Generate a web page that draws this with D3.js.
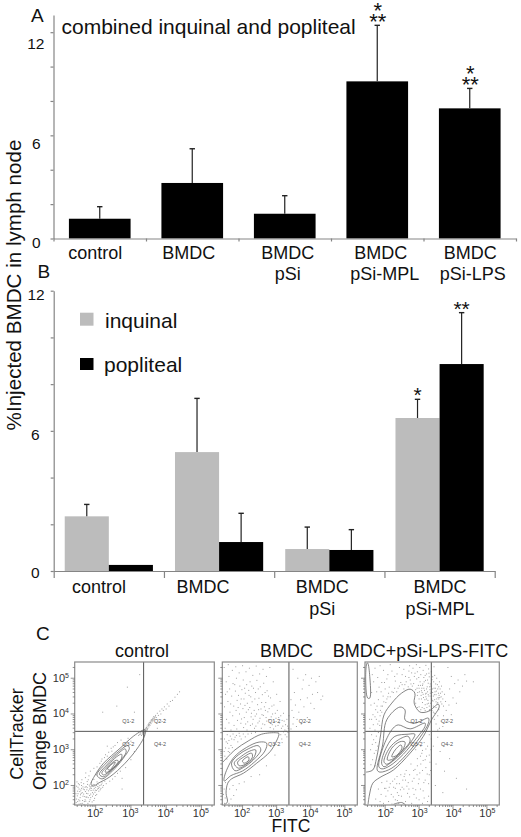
<!DOCTYPE html>
<html>
<head>
<meta charset="utf-8">
<script src="https://cdn.jsdelivr.net/npm/d3@7"></script>
<style>
html, body { margin: 0; padding: 0; background: #fff; }
svg { display: block; }
text { font-family: "Liberation Sans", Arial, sans-serif; fill: #111; }
</style>
</head>
<body>
<div id="chart"></div>
<script>
// panel A
var catsA = [["control"], ["BMDC"], ["BMDC", "pSi"], ["BMDC", "pSi-MPL"], ["BMDC", "pSi-LPS"]];
var valsA = [1.15, 3.23, 1.44, 9.14, 7.57];
var errTopA = [1.85, 5.22, 2.49, 12.4, 8.73];
var starsA = ["", "", "", "two", "two"];

// panel B
var catsB = [["control"], ["BMDC"], ["BMDC", "pSi"], ["BMDC", "pSi-MPL"]];
var seriesB = ["inquinal", "popliteal"];
var inquinal = [2.34, 5.09, 0.94, 6.55];
var popliteal = [0.26, 1.24, 0.90, 8.86];
var errTopInq = [2.85, 7.39, 1.88, 7.35];
var errTopPop = [0.27, 2.47, 1.77, 11.06];
var starsInq = ["", "", "", "*"];
var starsPop = ["", "", "", "**"];

var yTicks = [0, 2, 4, 6, 8, 10, 12];

// panel C, all in log10 units
var flowTitles = ["control", "BMDC", "BMDC+pSi-LPS-FITC"];
var gateX = 3.375, gateY = 3.5;
var decades = [2, 3, 4, 5];
var quadNames = [["Q1-2", 2.94, 3.79], ["Q2-2", 3.84, 3.79], ["Q3-2", 2.94, 3.16], ["Q4-2", 3.84, 3.16]];

var contoursControl = [
	[[1.88,2.02],[2.0,2.28],[2.24,2.61],[2.71,3.03],[3.08,3.36],[3.31,3.51],[3.41,3.55],[3.41,3.40],[3.23,3.07],[2.85,2.61],[2.42,2.23],[2.09,2.05],[1.95,1.97]],
	[[2.05,2.28],[2.28,2.58],[2.61,2.89],[2.92,3.10],[2.97,3.03],[2.80,2.75],[2.47,2.37],[2.19,2.17]],
	[[2.12,2.30],[2.33,2.56],[2.61,2.84],[2.85,3.01],[2.88,2.92],[2.71,2.67],[2.47,2.42],[2.24,2.23]],
	[[2.19,2.33],[2.38,2.56],[2.61,2.79],[2.75,2.86],[2.75,2.75],[2.57,2.51],[2.38,2.36],[2.24,2.28]],
	[[2.28,2.37],[2.41,2.54],[2.59,2.69],[2.66,2.67],[2.52,2.49],[2.35,2.36]],
	[[2.35,2.45],[2.47,2.58],[2.57,2.64],[2.52,2.54],[2.41,2.42]]
];
var openBMDC = [[1.44,2.64],[1.79,2.98],[2.18,3.23],[2.57,3.42],[3.01,3.46],[3.08,3.44],[3.01,3.23],[2.82,2.93],[2.43,2.61],[2.04,2.33],[1.69,2.17],[1.58,2.05],[1.53,1.77],[1.57,1.53],[1.48,1.44]];
var contoursBMDC = [
	[[1.48,2.23],[1.74,2.75],[2.13,3.05],[2.50,3.20],[2.72,3.17],[2.67,2.95],[2.36,2.64],[2.01,2.39],[1.67,2.26],[1.48,2.11]],
	[[1.69,2.61],[1.89,2.84],[2.18,3.01],[2.47,3.10],[2.55,2.98],[2.33,2.70],[2.04,2.49],[1.79,2.40]],
	[[1.77,2.61],[1.99,2.81],[2.23,2.95],[2.40,2.98],[2.36,2.79],[2.13,2.58],[1.89,2.47]],
	[[1.87,2.64],[2.06,2.79],[2.28,2.89],[2.30,2.77],[2.10,2.58],[1.91,2.54]],
	[[2.01,2.67],[2.18,2.79],[2.20,2.70],[2.06,2.61]]
];
var openLPS = [[1.45,2.36],[1.65,2.42],[1.76,2.75],[1.88,3.40],[1.98,3.96],[2.21,4.29],[2.50,4.57],[2.75,4.68],[2.89,4.57],[2.87,4.29],[3.04,4.04],[3.29,4.06],[3.58,4.26],[3.61,4.19],[3.38,3.82],[3.14,3.36],[2.75,2.89],[2.26,2.42],[1.86,2.21],[1.65,2.05],[1.55,1.72],[1.51,1.46]];
var openLPS2 = [[2.26,1.46],[2.50,1.51],[2.62,1.44]];
var contoursLPS = [
	[[1.48,5.41],[1.44,5.04],[1.50,4.43],[1.56,4.43],[1.56,5.04],[1.50,5.41]],
	[[1.78,2.42],[1.94,3.12],[2.06,3.82],[2.45,4.18],[2.60,4.10],[2.60,3.82],[2.89,3.73],[3.29,3.87],[3.29,3.73],[3.04,3.33],[2.65,2.86],[2.21,2.47],[1.86,2.36]],
	[[1.83,2.51],[1.98,3.12],[2.25,3.59],[2.40,3.68],[2.75,3.57],[3.19,3.73],[3.19,3.64],[2.94,3.31],[2.55,2.86],[2.16,2.54],[1.92,2.45]],
	[[1.91,2.61],[2.06,3.07],[2.30,3.36],[2.69,3.42],[2.89,3.42],[2.75,3.17],[2.45,2.84],[2.16,2.61],[1.98,2.51]],
	[[1.98,2.65],[2.14,3.03],[2.40,3.26],[2.69,3.36],[2.75,3.23],[2.55,2.98],[2.25,2.70],[2.06,2.58]],
	[[2.08,2.70],[2.21,3.03],[2.45,3.21],[2.60,3.20],[2.53,2.98],[2.25,2.73]],
	[[2.21,2.79],[2.31,2.98],[2.48,3.12],[2.51,3.03],[2.34,2.82]]
];

var dotsControl = [
[1.45,1.52],[1.48,1.71],[1.5,1.95],[1.47,2.1],[1.52,1.6],[1.55,1.83],[1.54,2.02],[1.58,1.49],[1.57,1.74],[1.6,1.92],[1.61,2.16],[1.63,1.58],[1.62,1.8],[1.66,2.05],[1.67,1.47],[1.69,1.69],[1.68,1.88],[1.71,2.22],[1.72,1.56],[1.74,1.78],[1.73,1.97],[1.76,2.11],[1.78,1.5],[1.79,1.66],[1.8,1.85],[1.82,2.01],[1.81,2.27],[1.84,1.6],[1.86,1.76],[1.85,1.93],[1.88,2.08],[1.9,1.54],[1.91,1.7],[1.93,1.87],[1.92,1.99],[1.95,2.17],[1.97,1.64],[1.98,1.81],[2.0,1.95],[2.01,2.3],[2.03,1.75],[2.05,1.9],[2.07,2.04],[2.09,1.84],[2.12,2.0],[2.15,1.92],[2.18,2.07],[2.22,2.0],[2.26,2.12],
[1.46,1.62],[1.49,1.84],[1.51,2.05],[1.53,1.48],[1.56,1.66],[1.59,1.78],[1.6,2.0],[1.64,1.7],[1.65,1.9],[1.7,1.6],[1.7,1.95],[1.75,1.68],[1.75,1.88],[1.77,2.03],[1.83,1.72],[1.83,1.9],[1.87,1.86],[1.89,1.98],[1.94,1.76],[1.96,1.92],[1.99,1.87],[2.02,2.0],[2.06,1.97],[2.1,1.95],[1.72,2.35],[1.85,2.4],[1.95,2.48],
[1.44,1.77],[1.46,1.98],[1.49,1.55],[1.5,1.77],[1.53,1.9],[1.55,1.57],[1.58,1.87],[1.59,2.08],[1.62,1.5],[1.64,1.96],[1.66,1.76],[1.68,1.55],[1.71,1.83],[1.73,1.67],[1.76,1.94],[1.78,1.77],[1.79,2.16],[1.82,1.55],[1.84,1.97],[1.86,1.66],[1.88,1.92],[1.91,1.8],[1.93,2.03],[1.95,1.58],[1.97,2.02],[2.0,1.72],[2.02,1.86],[2.04,2.1],[2.08,1.92],[2.13,1.88],[2.16,2.02],[2.2,1.95],
[2.04,2.52],[2.12,2.62],[2.18,2.74],[2.28,2.86],[2.37,2.93],[2.44,3.04],[2.55,3.12],[2.62,3.2],[2.72,3.27],[2.4,2.12],[2.55,2.25],[2.7,2.4],[2.85,2.5],[3.0,2.72],[3.1,2.95],[2.33,3.1],[2.92,3.32],[3.0,3.24],[2.75,2.2],[2.08,2.4],[2.16,2.68],[2.25,2.78],[2.33,2.82],[2.46,2.96],[2.5,3.08],[2.3,2.05],[2.48,2.18],[2.62,2.34],
[3.22,3.4],[3.27,3.44],[3.3,3.4],[3.31,3.52],[3.33,3.47],[3.35,3.43],[3.36,3.55],[3.38,3.49],[3.39,3.41],[3.41,3.58],[3.42,3.5],[3.44,3.62],[3.45,3.54],[3.46,3.66],[3.48,3.6],[3.49,3.7],[3.51,3.64],[3.52,3.75],[3.54,3.68],[3.55,3.8],[3.57,3.73],[3.58,3.84],[3.6,3.78],[3.62,3.88],[3.63,3.81],[3.65,3.93],[3.67,3.86],[3.7,3.96],[3.72,3.9],[3.75,4.02],[3.78,3.96],[3.82,4.08],[3.85,4.0],[3.88,4.14],[3.92,4.1],[3.95,4.2],[4.0,4.14],[4.03,4.28],[4.08,4.22],[4.12,4.35],[4.18,4.38],[4.25,4.47],[4.32,4.55],[4.38,4.62],
[3.25,3.43],[3.28,3.48],[3.32,3.44],[3.34,3.52],[3.37,3.46],[3.4,3.54],[3.43,3.56],[3.47,3.56],[3.5,3.68],[3.53,3.71],[3.56,3.76],[3.59,3.81],[3.61,3.84],[3.64,3.86],[3.66,3.9],[3.69,3.92],[3.34,3.48],[3.36,3.5],[3.38,3.53],[3.4,3.46],[3.43,3.6],[3.46,3.6],[3.5,3.72],[3.54,3.76],[3.6,3.83],
[2.6,4.22],[2.9,4.75],[3.1,4.05],[3.25,5.1],[2.2,4.05],[3.95,3.85],[3.75,3.6],[2.75,1.9]
];

var dotsBMDC = [
[1.46,5.3],[1.52,4.9],[1.5,4.55],[1.47,4.2],[1.53,3.85],[1.49,3.6],[1.58,5.38],[1.6,5.05],[1.62,4.7],[1.57,4.35],[1.63,4.05],[1.6,3.75],[1.66,3.55],[1.7,5.22],[1.72,4.85],[1.68,4.5],[1.74,4.22],[1.71,3.95],[1.75,3.68],[1.8,5.32],[1.82,5.0],[1.79,4.64],[1.84,4.38],[1.81,4.1],[1.85,3.82],[1.83,3.58],[1.9,5.15],[1.92,4.78],[1.88,4.52],[1.94,4.28],[1.91,4.0],[1.95,3.74],[2.0,5.35],[2.02,4.95],[1.98,4.68],[2.04,4.42],[2.01,4.15],[2.05,3.9],[2.03,3.62],[2.1,5.18],[2.12,4.82],[2.08,4.58],[2.14,4.3],[2.11,4.05],[2.15,3.78],[2.13,3.55],[2.2,5.28],[2.22,4.9],[2.18,4.66],[2.24,4.48],[2.21,4.18],[2.25,3.92],[2.23,3.68],[2.3,5.08],[2.32,4.72],[2.28,4.34],[2.34,4.1],[2.31,3.85],[2.35,3.6],[2.4,5.34],[2.42,4.94],[2.38,4.6],[2.44,4.26],[2.41,4.0],[2.45,3.75],[2.5,5.12],[2.52,4.76],[2.48,4.44],[2.54,4.14],[2.51,3.88],[2.55,3.6],[2.6,5.25],[2.62,4.86],[2.58,4.54],[2.64,4.2],[2.61,3.96],[2.65,3.7],[2.7,5.05],[2.72,4.65],[2.68,4.32],[2.74,4.06],[2.71,3.8],[2.8,5.3],[2.82,4.45],[2.78,4.15],[2.84,3.92],[2.81,3.62],[2.9,4.9],[2.92,4.25],[2.88,4.0],[2.94,3.78],[2.91,3.58],[3.0,4.55],[3.02,4.1],[2.98,3.88],[3.04,3.68],[3.1,4.35],[3.12,3.95],[3.08,3.75],[3.14,3.6],[3.2,4.02],[3.22,3.8],[3.18,3.66],[3.24,3.55],[3.3,3.85],[3.32,3.66],[3.28,3.52],[3.36,3.95],
[1.55,4.62],[1.65,4.28],[1.77,4.82],[1.87,4.18],[1.96,4.42],[1.97,3.86],[2.06,4.72],[2.07,4.24],[2.09,3.72],[2.17,4.12],[2.19,4.52],[2.27,4.78],[2.26,4.02],[2.29,3.72],[2.36,4.42],[2.37,3.94],[2.39,3.66],[2.46,4.7],[2.47,4.12],[2.49,3.8],[2.56,4.32],[2.57,3.98],[2.59,3.72],[2.66,4.6],[2.67,4.1],[2.69,3.9],[2.76,4.5],[2.77,3.84],[2.86,4.22],[2.87,3.7],[2.96,4.02],[2.97,3.66],[3.06,3.9],[3.16,3.82],[3.26,3.7],[3.34,3.6],
[1.47,3.3],[1.5,3.05],[1.48,2.82],[1.55,3.42],[1.56,3.18],[1.58,2.95],[1.54,2.74],[1.64,3.38],[1.66,3.12],[1.62,2.92],[1.72,3.44],[1.75,3.28],[1.7,3.06],[1.82,3.4],[1.86,3.22],[1.9,3.46],[1.96,3.3],[2.02,3.44],[2.08,3.36],[2.16,3.44],[2.26,3.46],[2.38,3.48],[1.52,3.22],[1.6,3.26],[1.68,3.3],[1.78,3.35],[1.92,3.38],[1.6,3.04],[1.46,2.95],
[1.47,1.5],[1.49,1.65],[1.46,1.9],[1.5,2.08],[1.44,1.75],[1.6,1.5],[1.66,1.62],[1.74,1.72],[1.82,1.88],[1.72,2.0],[1.9,2.05],[1.62,1.9],[2.5,2.3],[2.7,2.55],[2.95,2.85],[2.05,2.1],[2.25,2.25],
[3.05,3.5],[3.12,3.42],[3.15,3.3],[3.2,3.5],[3.25,3.42],[3.3,3.36],[3.33,3.48],[3.16,3.2],
[3.42,3.58],[3.48,3.72],[3.5,3.9],[3.45,4.1],[3.55,4.25],[3.6,3.85],[3.65,4.05],[3.7,4.4],[3.75,4.7],[3.8,4.2],[3.9,4.45],[3.95,4.8],[4.0,4.3],[4.05,4.55],[4.1,4.15],[4.2,4.6],[4.3,4.4],[4.35,4.5],[3.52,4.6],[3.62,5.0],[3.85,5.1],[4.02,5.0],[4.15,4.9],[3.58,3.65],[3.72,3.72],[3.9,3.9],[3.42,4.4],[3.48,5.25],[3.78,4.95],[4.25,5.05]
];

var dotsLPS = [
[2.72,5.35],[2.78,5.15],[2.74,4.95],[2.8,4.78],[2.82,5.28],[2.86,5.05],[2.84,4.85],[2.9,4.68],[2.92,5.38],[2.95,5.18],[2.93,4.98],[2.98,4.8],[2.96,4.6],[3.0,4.42],[3.02,5.3],[3.05,5.1],[3.03,4.9],[3.08,4.72],[3.06,4.52],[3.1,4.32],[3.12,5.22],[3.14,5.02],[3.11,4.84],[3.16,4.66],[3.13,4.46],[3.18,4.26],[3.2,5.36],[3.22,5.12],[3.19,4.94],[3.24,4.76],[3.21,4.58],[3.26,4.38],[3.23,4.18],[3.28,5.26],[3.3,5.04],[3.27,4.86],[3.32,4.68],[3.29,4.5],[3.34,4.3],[3.31,4.12],[3.36,5.18],[3.38,4.96],[3.35,4.78],[3.4,4.6],[3.37,4.42],[3.42,4.22],[3.44,5.32],[3.46,5.08],[3.43,4.9],[3.48,4.72],[3.45,4.54],[3.5,4.34],[3.52,5.0],[3.54,4.82],[3.51,4.64],[3.56,4.46],[3.53,4.28],[3.6,4.9],[3.62,4.7],[3.59,4.52],[3.64,4.34],[3.68,4.62],[3.7,4.42],[3.72,4.22],[3.75,4.55],[3.78,4.35],[3.8,4.1],
[2.7,5.02],[2.76,4.84],[2.88,5.14],[2.99,5.02],[3.04,4.8],[3.09,4.6],[3.15,4.9],[3.17,4.4],[3.25,4.62],[3.25,4.95],[3.33,4.58],[3.33,4.84],[3.39,4.7],[3.41,4.36],[3.47,4.62],[3.49,4.84],[3.55,4.7],[3.57,4.58],[3.63,4.58],[3.09,4.18],[3.15,4.15],[3.24,4.28],[2.95,4.52],[3.01,4.62],[3.07,4.42],[3.2,4.48],[3.3,4.22],[3.38,4.1],[3.45,4.02],[3.5,4.18],[3.58,4.12],
[2.94,4.72],[3.0,4.72],[3.07,4.65],[3.12,4.55],[3.14,4.72],[3.19,4.56],[3.22,4.42],[3.22,4.7],[3.27,4.54],[3.28,4.3],[3.31,4.76],[3.35,4.5],[3.36,4.62],[3.39,4.38],[3.42,4.5],[3.44,4.72],[3.46,4.4],[3.5,4.54],[3.52,4.42],[3.55,4.32],[3.58,4.42],[3.61,4.46],[3.65,4.48],[3.67,4.28],[3.1,4.8],[3.18,5.08],[3.29,5.14],[3.4,5.04],[3.58,4.76],[3.66,4.78],
[2.42,5.3],[2.5,5.1],[2.46,4.88],[2.55,5.25],[2.6,5.05],[2.58,4.82],[2.35,5.12],[2.3,4.92],[2.38,4.72],[2.2,5.2],[2.15,5.38],[2.24,4.6],[2.12,4.75],[2.05,4.98],[2.08,4.48],[2.0,4.7],[1.95,5.22],[1.9,4.88],[1.94,4.5],[1.88,4.22],[1.85,5.35],[1.82,4.75],[1.78,5.02],[1.8,4.4],[1.75,4.62],[1.72,4.12],[1.74,3.85],[1.7,5.28],[1.66,4.9],[1.68,4.3],[1.64,3.98],[1.62,5.1],[1.6,4.6],[1.65,3.7],[1.6,3.42],[1.62,3.15],[1.58,4.25],[1.7,3.55],[1.72,3.2],[1.68,2.9],[1.63,2.72],[1.78,3.72],[1.8,3.48],[1.78,3.1],[1.85,3.95],[1.84,3.68],[1.9,4.05],[2.02,4.32],[2.15,4.48],[2.34,4.62],[2.55,4.7],[2.68,4.76],[1.57,3.0],[1.55,3.6],[1.54,3.85],[1.58,2.58],[1.7,2.55],
[1.66,3.28],[1.74,3.38],[1.73,2.98],[1.6,3.85],[1.7,3.92],[1.78,4.05],[1.82,3.8],[1.76,4.22],[1.86,4.1],[1.92,4.22],[1.96,4.34],[2.05,4.42],[2.1,4.58],[2.2,4.62],[2.28,4.72],[2.42,4.78],[2.5,4.82],[2.62,4.9],[2.7,5.2],[2.28,5.05],[1.98,4.88],[1.88,4.62],[2.08,5.1],
[2.9,4.3],[2.95,4.18],[3.0,4.2],[3.05,4.12],[3.18,4.1],[3.3,4.1],[3.42,4.05],[3.55,3.95],[3.65,3.8],[3.72,3.95],[3.85,3.85],[3.5,3.72],[3.6,3.6],[3.7,3.65],[3.45,3.85],[3.55,3.55],
[3.85,5.3],[3.95,5.05],[4.05,4.85],[4.15,4.95],[4.2,4.62],[4.28,4.78],[4.35,5.1],[4.4,4.92],[3.9,4.7],[4.0,4.45],[3.88,4.25],[4.1,4.3],[3.95,3.98],[4.6,4.9],
[1.95,1.5],[2.02,1.7],[1.98,1.92],[2.1,1.55],[2.08,1.85],[2.15,2.05],[2.2,1.48],[2.18,1.75],[2.25,1.95],[2.3,1.6],[2.28,2.18],[2.36,1.8],[2.4,1.5],[2.42,2.05],[2.48,1.7],[2.46,2.3],[2.55,1.9],[2.52,2.15],[2.6,1.55],[2.62,2.42],[2.66,1.78],[2.68,2.08],[2.72,2.3],[2.78,1.5],[2.76,2.6],[2.82,1.92],[2.85,2.2],[2.88,2.45],[2.92,1.65],[2.95,2.75],[2.98,2.05],[3.02,2.35],[3.05,2.6],[3.1,1.5],[3.12,1.85],[3.08,2.9],[3.18,2.15],[3.2,2.5],[3.22,2.82],[3.25,3.1],[3.28,1.7],[3.3,2.3],[3.32,2.65],[3.35,3.0],[3.36,3.3],
[1.72,1.62],[1.8,1.9],[1.85,1.55],[1.9,2.08],[1.88,1.75],[2.05,2.12],[2.22,2.12],[2.35,2.25],[2.3,1.92],[2.45,1.88],[2.58,2.32],[2.7,1.9],[2.85,1.75],[3.0,1.6],[3.15,1.65],[3.25,1.55],[2.9,3.0],[3.05,3.1],[3.15,3.2],[2.95,2.55],[3.12,2.7],[3.3,3.42],
[2.12,1.95],[2.24,1.68],[2.34,2.05],[2.4,1.72],[2.5,1.95],[2.56,2.25],[2.64,1.98],[2.72,1.68],[2.8,2.12],[2.84,2.42],[2.9,1.88],[2.94,2.3],[3.0,2.18],[3.04,1.9],[3.1,2.42],[3.14,2.08],[3.18,2.72],[3.24,2.32],[3.28,2.05],[3.3,2.85],[3.34,2.42],[3.04,2.82],[3.1,2.98],[3.2,3.02],[2.6,2.15],[2.36,1.58],[2.02,1.92],
[3.42,3.1],[3.5,2.6],[3.62,2.95],[3.75,2.4],[3.9,2.75],[3.48,2.0],[3.7,1.8],[4.1,2.2],[4.4,1.9],[3.55,3.35]
];

var svg = d3.select("#chart").append("svg").attr("width", 521).attr("height", 837);

function multiLabel(g, lines, cx, y0, lineGap, size) {
	lines.forEach(function(t, i) {
		g.append("text").attr("x", cx).attr("y", y0 + i * lineGap)
			.attr("text-anchor", "middle").attr("font-size", size).text(t);
	});
}

function styleAxis(g) {
	g.selectAll("path, line").attr("stroke", "#858585").attr("stroke-width", 1.2);
	g.selectAll("text").attr("font-size", 15.5).style("fill", "#111");
}

function errBar(g, x, yBase, yTop) {
	g.append("line").attr("x1", x).attr("x2", x).attr("y1", yBase).attr("y2", yTop)
		.attr("stroke", "#222").attr("stroke-width", 1.2);
	g.append("line").attr("x1", x - 2.7).attr("x2", x + 2.7).attr("y1", yTop).attr("y2", yTop)
		.attr("stroke", "#222").attr("stroke-width", 1.4);
}

function star(g, s, x, y, size) {
	g.append("text").attr("x", x).attr("y", y).attr("text-anchor", "middle")
		.attr("font-size", size).text(s);
}

// ---- A
var xA = d3.scaleBand().domain(d3.range(catsA.length)).range([53.5, 516]).paddingInner(1 / 3).paddingOuter(1 / 6);
var yA = d3.scaleLinear().domain([0, 13]).range([238.5, 15]);
var edgeA = d3.scaleLinear().domain([0, catsA.length]).range([53.5, 516]);
var gA = svg.append("g");

gA.selectAll("rect").data(valsA).enter().append("rect")
	.attr("x", function(d, i) { return xA(i); })
	.attr("y", function(d) { return yA(d); })
	.attr("width", xA.bandwidth())
	.attr("height", function(d) { return yA(0) - yA(d); })
	.attr("fill", "#000");

valsA.forEach(function(v, i) {
	var cx = xA(i) + xA.bandwidth() / 2;
	errBar(gA, cx, yA(v), yA(errTopA[i]));
	if (starsA[i] == "two") {
		// one text element, two lines
		var st = gA.append("text").attr("text-anchor", "middle").attr("font-size", 22);
		st.append("tspan").attr("x", cx + 0.5).attr("y", yA(errTopA[i]) - 7).text("*");
		st.append("tspan").attr("x", cx + 0.5).attr("y", yA(errTopA[i]) + 3.5).text("**");
	}
});

var axisAy = gA.append("g").attr("transform", "translate(53.5,0)")
	.call(d3.axisLeft(yA).tickValues(yTicks).tickSize(3).tickSizeOuter(0)
		.tickFormat(function(d) { return d % 6 == 0 ? d : ""; }));
styleAxis(axisAy);
var nudgeAy = {0: [-7, 4], 6: [-7, 8], 12: [-3, 11]};
axisAy.selectAll("text").attr("transform", function(d) {
	return nudgeAy[d] ? "translate(" + nudgeAy[d][0] + "," + nudgeAy[d][1] + ")" : null;
});
var axisAx = gA.append("g").attr("transform", "translate(0,238.5)")
	.call(d3.axisBottom(edgeA).ticks(catsA.length).tickSize(3).tickSizeOuter(0).tickFormat(""));
styleAxis(axisAx);

var nudgeA = [-4.5, -3.5, 3, 3.5, 0.5];
catsA.forEach(function(c, i) {
	var cx = xA(i) + xA.bandwidth() / 2 + nudgeA[i];
	gA.append("text").attr("x", cx).attr("y", 259).attr("text-anchor", "middle").attr("font-size", 18).text(c[0]);
	if (c[1]) {
		gA.append("text").attr("x", cx + (i == 3 ? 4 : i == 4 ? 2.5 : 0)).attr("y", 280)
			.attr("text-anchor", "middle").attr("font-size", 18).text(c[1]);
	}
});

svg.append("text").attr("x", 31).attr("y", 22).attr("font-size", 19).text("A");
svg.append("text").attr("x", 61.5).attr("y", 34).attr("font-size", 21).text("combined inquinal and popliteal");

// ---- B
var x0B = d3.scaleBand().domain(d3.range(catsB.length)).range([53.7, 494.7]).paddingInner(0.2).paddingOuter(0.1);
var x1B = d3.scaleBand().domain(seriesB).range([0, x0B.bandwidth()]);
var yB = d3.scaleLinear().domain([0, 12]).range([571, 290.7]);
var edgeB = d3.scaleLinear().domain([0, catsB.length]).range([53.7, 494.7]);
var colorB = d3.scaleOrdinal().domain(seriesB).range(["#bcbcbc", "#000"]);
var gB = svg.append("g");

[inquinal, popliteal].forEach(function(vals, s) {
	var name = seriesB[s];
	var tops = s == 0 ? errTopInq : errTopPop;
	var marks = s == 0 ? starsInq : starsPop;
	vals.forEach(function(v, i) {
		var bx = x0B(i) + x1B(name);
		gB.append("rect").attr("x", bx).attr("y", yB(v))
			.attr("width", x1B.bandwidth()).attr("height", yB(0) - yB(v))
			.attr("fill", colorB(name));
		var cx = bx + x1B.bandwidth() / 2;
		if (tops[i] - v > 0.05) errBar(gB, cx, yB(v), yB(tops[i]));
		if (marks[i]) star(gB, marks[i], cx, yB(tops[i]) + 3, 21);
	});
});

var axisBy = gB.append("g").attr("transform", "translate(53.7,0)")
	.call(d3.axisLeft(yB).tickValues(yTicks).tickSize(3).tickSizeOuter(0)
		.tickFormat(function(d) { return d % 6 == 0 ? d : ""; }));
styleAxis(axisBy);
var nudgeBy = {0: [-8, 2], 6: [-8, 4], 12: [-3, 4]};
axisBy.selectAll("text").attr("transform", function(d) {
	return nudgeBy[d] ? "translate(" + nudgeBy[d][0] + "," + nudgeBy[d][1] + ")" : null;
});
var axisBx = gB.append("g").attr("transform", "translate(0,571)")
	.call(d3.axisBottom(edgeB).ticks(catsB.length).tickSize(7).tickSizeOuter(0).tickFormat(""));
styleAxis(axisBx);

var nudgeB = [-9.8, -16, -7, 0.5];
catsB.forEach(function(c, i) {
	var cx = x0B(i) + x0B.bandwidth() / 2 + nudgeB[i];
	multiLabel(gB, c, cx, 593, 22, 18);
});

svg.append("text").attr("x", 37.5).attr("y", 278).attr("font-size", 19).text("B");

seriesB.forEach(function(name, i) {
	svg.append("rect").attr("x", 80).attr("y", i == 0 ? 312.7 : 358)
		.attr("width", 13.5).attr("height", i == 0 ? 13 : 12).attr("fill", colorB(name));
	svg.append("text").attr("x", i == 0 ? 105 : 104).attr("y", i == 0 ? 328 : 371.7)
		.attr("font-size", 21).text(name);
});

svg.append("text").attr("transform", "translate(20.5,285) rotate(-90)")
	.attr("text-anchor", "middle").attr("font-size", 20.6).text("%Injected BMDC in lymph node");

// ---- C
svg.append("text").attr("x", 36).attr("y", 640).attr("font-size", 19).text("C");

var flowRanges = [[74.7, 214.3], [222.3, 357.3], [365, 499.3]];
var flowData = [
	{dots: dotsControl, closed: contoursControl, open: []},
	{dots: dotsBMDC, closed: contoursBMDC, open: [openBMDC]},
	{dots: dotsLPS, closed: contoursLPS, open: [openLPS, openLPS2]}
];
var minorSteps = [2, 3, 4, 5, 6, 7, 8, 9];
var minorTicks = [];
[1, 2, 3, 4, 5].forEach(function(d) {
	minorSteps.forEach(function(m) {
		var v = d + Math.log10(m);
		if (v > 1.44 && v < 5.36) minorTicks.push(v);
	});
});
var yFlow = d3.scaleLinear().domain([1.44, 5.44]).range([805, 662]);

function powerLabel(sel, x, y, anchor, d) {
	var t = sel.append("text").attr("x", x).attr("y", y).attr("text-anchor", anchor).attr("font-size", 11).style("fill", "#333");
	t.append("tspan").text("10");
	t.append("tspan").attr("font-size", 7).attr("dy", -4).text(d);
}

flowData.forEach(function(fd, p) {
	var xFlow = d3.scaleLinear().domain([1.42, 5.38]).range(flowRanges[p]);
	var g = svg.append("g");
	var path = d3.line().x(function(d) { return xFlow(d[0]); }).y(function(d) { return yFlow(d[1]); });

	g.selectAll("rect.dot").data(fd.dots).enter().append("rect").attr("class", "dot")
		.attr("x", function(d) { return xFlow(d[0]); })
		.attr("y", function(d) { return yFlow(d[1]); })
		.attr("width", 1).attr("height", 1).attr("fill", "#a0a0a0");

	fd.open.forEach(function(c) {
		g.append("path").attr("d", path.curve(d3.curveCatmullRom)(c))
			.attr("fill", "none").attr("stroke", "#666").attr("stroke-width", 0.8);
	});
	fd.closed.forEach(function(c) {
		g.append("path").attr("d", path.curve(d3.curveCatmullRomClosed)(c))
			.attr("fill", "none").attr("stroke", "#666").attr("stroke-width", 0.8);
	});

	g.append("line").attr("x1", xFlow(gateX)).attr("x2", xFlow(gateX))
		.attr("y1", yFlow.range()[0]).attr("y2", yFlow.range()[1]).attr("stroke", "#555").attr("stroke-width", 1);
	g.append("line").attr("x1", flowRanges[p][0]).attr("x2", flowRanges[p][1])
		.attr("y1", yFlow(gateY)).attr("y2", yFlow(gateY)).attr("stroke", "#555").attr("stroke-width", 1);

	quadNames.forEach(function(q) {
		g.append("text").attr("x", xFlow(q[1])).attr("y", yFlow(q[2]) + 2).attr("text-anchor", "middle")
			.attr("font-size", 5.5).style("fill", "#555").text(q[0]);
	});

	g.append("rect").attr("x", flowRanges[p][0]).attr("y", 662)
		.attr("width", flowRanges[p][1] - flowRanges[p][0]).attr("height", 143)
		.attr("fill", "none").attr("stroke", "#8a8a8a").attr("stroke-width", 1.2);

	var axes = [
		d3.axisBottom(xFlow).tickValues(decades).tickSize(4),
		d3.axisBottom(xFlow).tickValues(minorTicks).tickSize(2)
	];
	axes.forEach(function(a) {
		g.append("g").attr("transform", "translate(0,805)").call(a.tickFormat("").tickSizeOuter(0))
			.call(function(s) { s.select(".domain").remove(); s.selectAll("line").attr("stroke", "#666").attr("stroke-width", 0.7); });
	});
	var axesY = [
		d3.axisLeft(yFlow).tickValues(decades).tickSize(4),
		d3.axisLeft(yFlow).tickValues(minorTicks).tickSize(2)
	];
	axesY.forEach(function(a) {
		g.append("g").attr("transform", "translate(" + flowRanges[p][0] + ",0)").call(a.tickFormat("").tickSizeOuter(0))
			.call(function(s) { s.select(".domain").remove(); s.selectAll("line").attr("stroke", "#666").attr("stroke-width", 0.7); });
	});

	decades.forEach(function(d) {
		powerLabel(g, xFlow(d) + (p == 2 ? 1 : 0), 817, "middle", d);
		if (p == 0) powerLabel(g, 69, yFlow(d) + 4, "end", d);
	});
});

var titleCx = [142, 286.5, 420.5];
flowTitles.forEach(function(t, i) {
	svg.append("text").attr("x", titleCx[i]).attr("y", 656.7).attr("text-anchor", "middle")
		.attr("font-size", 18).text(t);
});
svg.append("text").attr("x", 291).attr("y", 832).attr("text-anchor", "middle").attr("font-size", 17.5).text("FITC");
svg.append("text").attr("transform", "translate(23.3,734) rotate(-90)").attr("text-anchor", "middle").attr("font-size", 18).text("CellTracker");
svg.append("text").attr("transform", "translate(45.7,731) rotate(-90)").attr("text-anchor", "middle").attr("font-size", 18).text("Orange BMDC");
</script>
</body>
</html>
